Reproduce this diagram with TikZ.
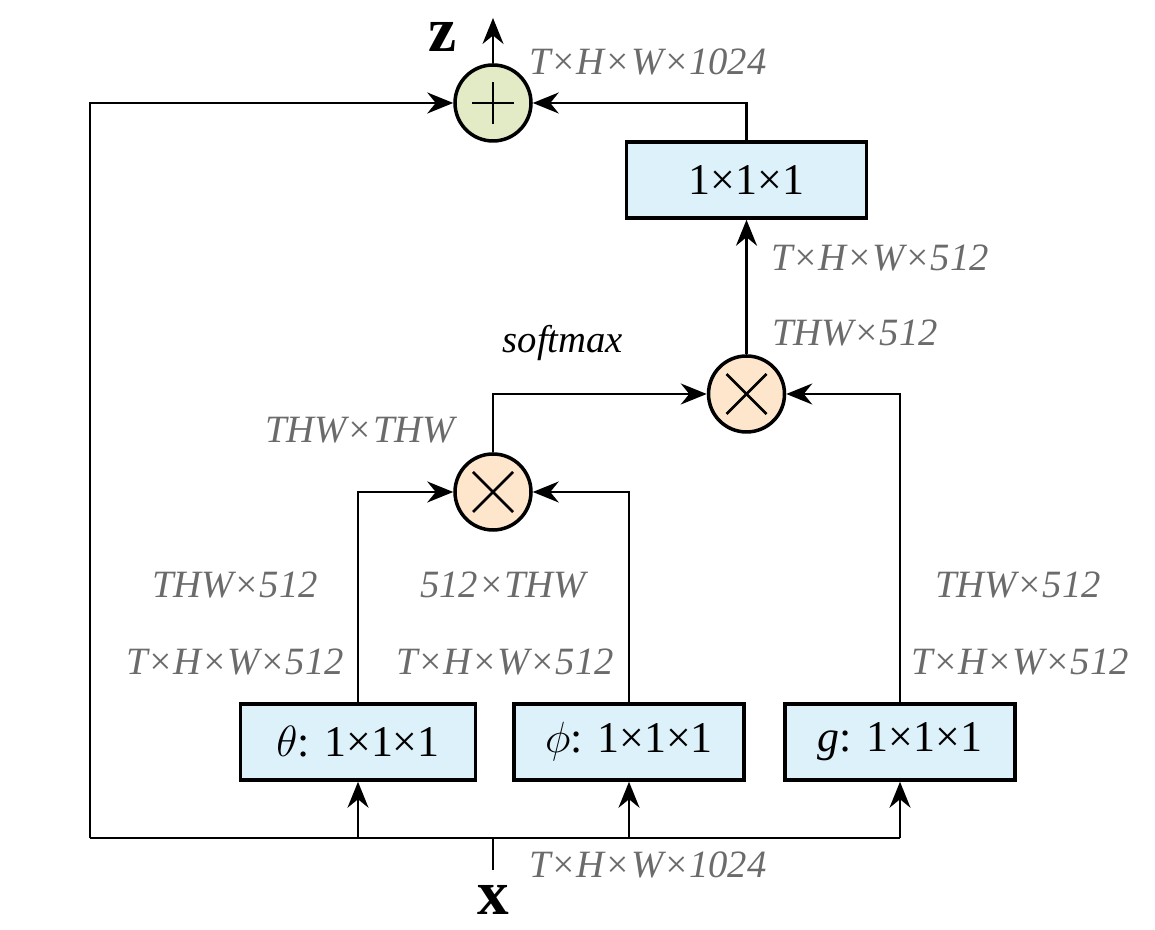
\documentclass[tikz,border=0pt]{standalone}
\usepackage{fontspec}
\setmainfont{LiberationSerif}[Extension=.ttf, UprightFont=*-Regular,
  ItalicFont=*-Italic, BoldFont=*-Bold, BoldItalicFont=*-BoldItalic]
\usetikzlibrary{arrows.meta,positioning}

\definecolor{convblue}{HTML}{DDF1FA}
\definecolor{sumgreen}{HTML}{E3EBC6}
\definecolor{mulorange}{HTML}{FDE6CC}
\definecolor{dimgray}{HTML}{6B6B6B}

\tikzset{
  conv/.style={draw, line width=2pt, fill=convblue, minimum width=4.7cm,
    minimum height=1.52cm, inner sep=0pt, font=\fontsize{25}{30}\selectfont},
  op/.style={circle, draw, line width=2pt, minimum size=1.52cm, inner sep=0pt},
  dimlabel/.style={text=dimgray, font=\fontsize{22}{26}\selectfont\itshape},
  wire/.style={line width=1.3pt},
  sign/.style={line width=1.5pt},
  flow/.style={wire, -{Stealth[length=0.52cm, width=0.42cm, inset=0.17cm]}}
}

\begin{document}
\begin{tikzpicture}

    \useasboundingbox (0,0) rectangle (23.1,18.6);

    %% Non-local block

    % Operators
    \node[op, fill=sumgreen] (sum) at (9.86,16.54) {};
    \draw[sign] (sum.center) ++(-0.42,0) -- ++(0.84,0);
    \draw[sign] (sum.center) ++(0,-0.42) -- ++(0,0.84);

    \node[op, fill=mulorange] (mulB) at (14.93,10.72) {};
    \draw[sign] (mulB.center) ++(-0.4,-0.4) -- ++(0.8,0.8);
    \draw[sign] (mulB.center) ++(-0.4,0.4) -- ++(0.8,-0.8);

    \node[op, fill=mulorange] (mulA) at (9.86,8.76) {};
    \draw[sign] (mulA.center) ++(-0.4,-0.4) -- ++(0.8,0.8);
    \draw[sign] (mulA.center) ++(-0.4,0.4) -- ++(0.8,-0.8);

    % Convolutions
    \node[conv, minimum width=4.8cm] (out) at (14.93,15.0) {1×1×1};
    \node[conv] (theta) at (7.16,3.76) {$\theta$: 1×1×1};
    \node[conv, minimum width=4.6cm] (phi) at (12.58,3.76) {$\phi$: 1×1×1};
    \node[conv, minimum width=4.6cm] (g) at (18.0,3.76) {\textit{g}: 1×1×1};

    % Input and output
    \coordinate (bl) at (1.8,1.84);
    \coordinate (br) at (18.0,1.84);
    \coordinate (xin) at (9.86,1.2);
    \coordinate (zout) at (9.86,18.24);
    \node[font=\fontsize{36}{40}\selectfont\bfseries] (xlab) at (9.86,0.6) {x};
    \node[font=\fontsize{36}{40}\selectfont\bfseries] (zlab) at (8.86,17.85) {z};

    % Connections
    \draw[wire] (xin) -- (xin |- bl);
    \draw[wire] (bl) -- (br);
    \draw[flow] (bl) |- (sum.west);
    \draw[flow] (theta |- bl) -- (theta.south);
    \draw[flow] (phi |- bl) -- (phi.south);
    \draw[flow] (g |- bl) -- (g.south);
    \draw[flow] (theta.north) |- (mulA.west);
    \draw[flow] (phi.north) |- (mulA.east);
    \draw[flow] (g.north) |- (mulB.east);
    \draw[flow] (mulA.north) |- (mulB.west);
    \draw[flow] (mulB.north) -- (out.south);
    \draw[flow] (out.north) |- (sum.east);
    \draw[flow] (sum.north) -- (zout);

    % Sizes
    \node[dimlabel] (dimTop) at (12.96,17.36) {T×H×W×1024};
    \node[dimlabel] (dimIn) at (12.96,1.3) {T×H×W×1024};
    \node[dimlabel] (dimOut) at (17.6,13.44) {T×H×W×512};
    \node[dimlabel] (dimMulB) at (17.1,11.94) {THW×512};
    \node[dimlabel] (dimMulA) at (7.2,10.0) {THW×THW};
    \node[font=\fontsize{22}{26}\selectfont\itshape] (soft) at (11.26,11.74) {softmax};
    \node[dimlabel] (dimThetaA) at (4.7,6.9) {THW×512};
    \node[dimlabel] (dimThetaB) at (4.7,5.36) {T×H×W×512};
    \node[dimlabel] (dimPhiA) at (10.06,6.9) {512×THW};
    \node[dimlabel] (dimPhiB) at (10.1,5.36) {T×H×W×512};
    \node[dimlabel] (dimGA) at (20.36,6.9) {THW×512};
    \node[dimlabel] (dimGB) at (20.4,5.36) {T×H×W×512};

\end{tikzpicture}
\end{document}
